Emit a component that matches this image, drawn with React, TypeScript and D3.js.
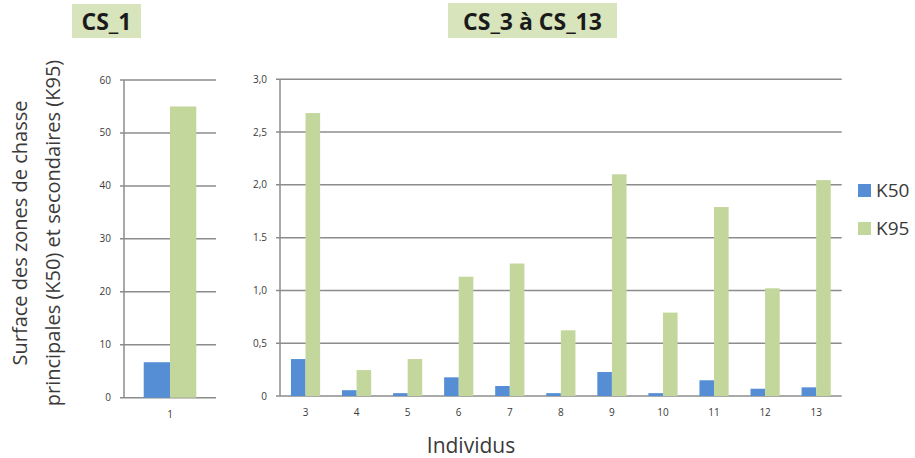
import { scaleBand, scaleLinear } from "d3";

// data
const seriesNames = ["K50", "K95"];
const leftCategories = ["1"];
const leftK50 = [6.7];
const leftK95 = [55.0];
const leftTicks = [0, 10, 20, 30, 40, 50, 60];
const leftTickLabels = ["0", "10", "20", "30", "40", "50", "60"];

const rightCategories = ["3", "4", "5", "6", "7", "8", "9", "10", "11", "12", "13"];
const rightK50 = [0.35, 0.055, 0.027, 0.177, 0.095, 0.027, 0.227, 0.027, 0.149, 0.069, 0.082];
const rightK95 = [2.68, 0.245, 0.35, 1.13, 1.255, 0.622, 2.1, 0.79, 1.79, 1.02, 2.045];
const rightTicks = [0, 0.5, 1, 1.5, 2, 2.5, 3];
const rightTickLabels = ["0", "0,5", "1,0", "1.5", "2,0", "2,5", "3,0"];

const colors = ["#558ed5", "#c3d69b"];
const gridColor = "#8c8c8c";
const textColor = "#3a3a3a";
const font = "'Open Sans', 'DejaVu Sans', sans-serif";

type PanelProps = {
  x0: number;
  x1: number;
  y0: number;
  y1: number;
  max: number;
  cats: string[];
  k50: number[];
  k95: number[];
  ticks: number[];
  tickLabels: string[];
};

const Panel = ({ x0, x1, y0, y1, max, cats, k50, k95, ticks, tickLabels }: PanelProps) => {
  const x = scaleBand<string>().domain(cats).range([x0, x1]).paddingInner(0).paddingOuter(0);
  const y = scaleLinear().domain([0, max]).range([y1, y0]);
  // excel gap width 150%
  const bw = x.bandwidth() / 3.5;
  const series = [k50, k95];
  return (
    <g>
      {ticks.map((t, i) => (
        <g key={t}>
          <line x1={x0 - 4} x2={x1} y1={y(t)} y2={y(t)} stroke={gridColor} strokeWidth={1.5} />
          <text x={x0 - 13} y={y(t)} dy="0.35em" textAnchor="end" fontSize={10} fill={textColor} fontFamily={font}>
            {tickLabels[i]}
          </text>
        </g>
      ))}
      <line x1={x0} x2={x0} y1={y0} y2={y1} stroke={gridColor} strokeWidth={1.5} />
      {cats.map((c, i) => (
        <g key={c}>
          {series.map((s, j) => (
            <rect
              key={j}
              x={(x(c) as number) + bw * 0.75 + j * bw}
              y={y(s[i])}
              width={bw}
              height={y(0) - y(s[i])}
              fill={colors[j]}
            />
          ))}
          <text x={(x(c) as number) + x.bandwidth() / 2} y={y1 + 20} textAnchor="middle" fontSize={10} fill={textColor} fontFamily={font}>
            {c}
          </text>
        </g>
      ))}
    </g>
  );
};

export default function App() {
  return (
    <svg width={915} height={458} style={{ position: "absolute", left: 0, top: 0, background: "#fff" }}>
      <rect x={72} y={4} width={69} height={34} fill="#d8e4bc" />
      <text x={106.5} y={30} textAnchor="middle" fontSize={23} fontWeight="bold" fill="#1a1a1a" fontFamily={font}>
        CS_1
      </text>
      <rect x={448} y={3} width={169} height={35} fill="#d8e4bc" />
      <text x={532.5} y={30} textAnchor="middle" fontSize={23} fontWeight="bold" fill="#1a1a1a" fontFamily={font}>
        CS_3 à CS_13
      </text>

      <Panel x0={124} x1={216} y0={80} y1={397.7} max={60} cats={leftCategories} k50={leftK50} k95={leftK95} ticks={leftTicks} tickLabels={leftTickLabels} />
      <Panel x0={280} x1={841.7} y0={79.3} y1={396} max={3} cats={rightCategories} k50={rightK50} k95={rightK95} ticks={rightTicks} tickLabels={rightTickLabels} />

      <g transform="translate(0,233) rotate(-90)">
        <text textAnchor="middle" fontSize={20} fill={textColor} fontFamily={font} y={27}>
          Surface des zones de chasse
        </text>
        <text textAnchor="middle" fontSize={20} fill={textColor} fontFamily={font} y={60}>
          principales (K50) et secondaires (K95)
        </text>
      </g>
      <text x={471} y={453} textAnchor="middle" fontSize={21} fill={textColor} fontFamily={font}>
        Individus
      </text>

      {seriesNames.map((s, i) => (
        <g key={s} transform={`translate(858,${184 + i * 38})`}>
          <rect width={13} height={13} fill={colors[i]} />
          <text x={18} y={6.5} dy="0.36em" fontSize={19} fill={textColor} fontFamily={font}>
            {s}
          </text>
        </g>
      ))}
    </svg>
  );
}
